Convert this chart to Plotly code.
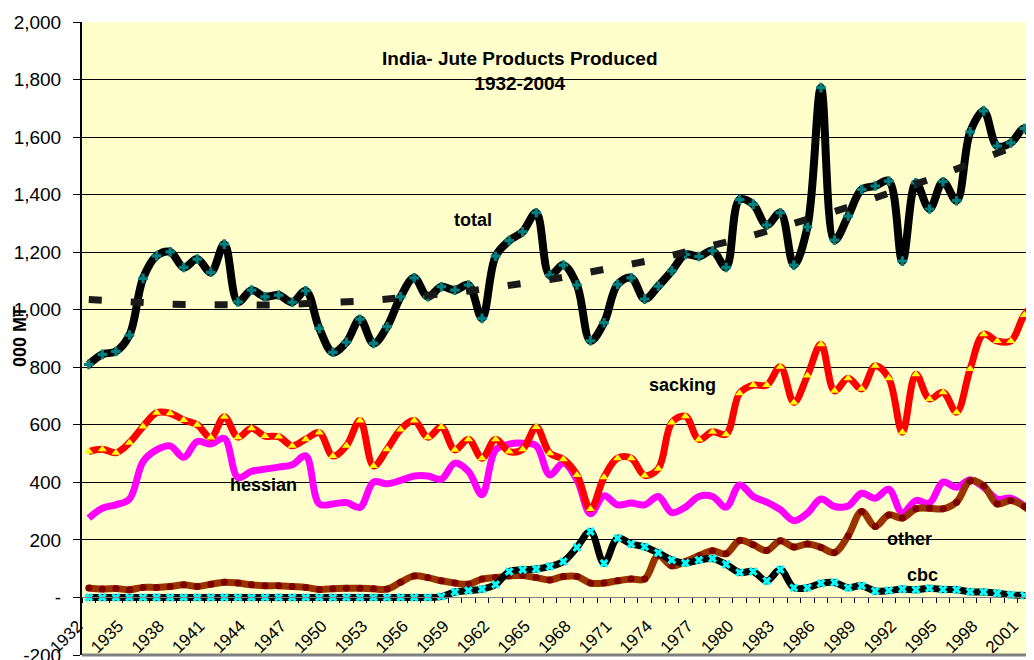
import numpy as np
import plotly.graph_objects as go

years = list(range(1932, 2005))

total = [810, 845, 855, 912, 1109, 1187, 1201, 1147, 1176, 1130,
         1228, 1027, 1068, 1045, 1051, 1026, 1066, 935, 852, 887,
         967, 883, 941, 1045, 1111, 1045, 1080, 1068, 1086, 970,
         1186, 1240, 1271, 1337, 1120, 1155, 1086, 892, 955, 1088,
         1111, 1037, 1082, 1135, 1192, 1185, 1205, 1147, 1383, 1366,
         1294, 1337, 1155, 1288, 1772, 1242, 1325, 1418, 1430, 1447,
         1169, 1441, 1350, 1445, 1379, 1618, 1691, 1569, 1580, 1630,
         1575, 1590, 1610]

sacking = [507, 515, 503, 538, 594, 642, 640, 617, 600, 556,
           628, 557, 588, 561, 559, 527, 550, 573, 492, 527,
           615, 457, 515, 584, 615, 557, 592, 513, 550, 484,
           550, 507, 515, 592, 501, 480, 426, 307, 418, 484,
           484, 424, 447, 608, 630, 549, 576, 567, 710, 738,
           738, 802, 678, 771, 880, 718, 762, 725, 805, 762,
           574, 776, 690, 713, 644, 794, 915, 891, 891, 982,
           1030, 1040, 1050]

hessian = [276, 310, 322, 342, 472, 513, 527, 487, 542, 533,
           553, 417, 438, 446, 453, 461, 492, 325, 325, 330,
           313, 401, 395, 407, 422, 422, 411, 467, 438, 357,
           513, 533, 536, 527, 426, 467, 409, 291, 353, 322,
           328, 322, 351, 295, 314, 351, 351, 314, 391, 351,
           331, 305, 267, 293, 342, 316, 318, 362, 345, 376,
           293, 337, 328, 401, 383, 409, 383, 342, 345, 318,
           280, 270, 265]

other = [33, 29, 31, 27, 35, 35, 38, 44, 38, 46,
         53, 50, 44, 41, 41, 38, 35, 28, 30, 32,
         32, 30, 29, 53, 75, 69, 58, 50, 46, 64,
         69, 75, 76, 69, 61, 73, 73, 50, 50, 58,
         64, 64, 146, 110, 125, 145, 162, 152, 198, 183,
         163, 197, 175, 186, 174, 156, 214, 299, 247, 287,
         276, 308, 310, 308, 331, 405, 388, 325, 337, 316,
         275, 275, 285]

cbc = [0, 0, 0, 0, 0, 0, 0, 0, 0, 0,
       0, 0, 0, 0, 0, 0, 0, 0, 0, 0,
       0, 0, 0, 0, 0, 0, 3, 19, 24, 29,
       45, 90, 96, 99, 108, 125, 174, 229, 119, 206,
       186, 176, 155, 130, 120, 130, 135, 115, 87, 90,
       57, 97, 34, 34, 49, 52, 34, 41, 22, 24,
       29, 27, 32, 28, 27, 20, 19, 15, 9, 7,
       5, 5, 5]

x_labels = [str(y) for y in range(1932, 2005, 3)]
y_ticks = [-200, 0, 200, 400, 600, 800, 1000, 1200, 1400, 1600, 1800, 2000]
y_labels = ["-200", "-", "200", "400", "600", "800", "1,000", "1,200",
            "1,400", "1,600", "1,800", "2,000"]

title_lines = ["India- Jute Products Produced", "1932-2004"]
y_title = "000 MT"

# polynomial (order 2) trendline of total, as in the original spreadsheet chart
coef = np.polyfit(years, total, 2)
trend = np.polyval(coef, years)

FONT = "Liberation Sans, Arial, sans-serif"

fig = go.Figure()

fig.add_trace(go.Scatter(x=years, y=hessian, mode="lines", name="hessian",
                         line=dict(color="#FF00FF", width=7, shape="spline")))
fig.add_trace(go.Scatter(x=years, y=sacking, mode="lines+markers", name="sacking",
                         line=dict(color="#FF0000", width=7, shape="spline"),
                         marker=dict(symbol="triangle-up", size=8, color="#FFFF00")))
fig.add_trace(go.Scatter(x=years, y=total, mode="lines+markers", name="total",
                         line=dict(color="#000000", width=8, shape="spline"),
                         marker=dict(symbol="cross", size=8, color="#008080")))
fig.add_trace(go.Scatter(x=years, y=trend, mode="lines", name="trend",
                         line=dict(color="#1a1a1a", width=7, dash="13px,29px")))
fig.add_trace(go.Scatter(x=years, y=other, mode="lines+markers", name="other",
                         line=dict(color="#993300", width=7, shape="spline"),
                         marker=dict(symbol="circle", size=7, color="#800000")))
fig.add_trace(go.Scatter(x=years, y=cbc, mode="lines+markers", name="cbc",
                         line=dict(color="#000000", width=7, shape="spline"),
                         marker=dict(symbol="x", size=8, color="#00FFFF")))

fig.update_layout(
    width=1034, height=660,
    margin=dict(l=74, r=0, t=14, b=13, pad=0, autoexpand=False),
    paper_bgcolor="white", plot_bgcolor="#FFFFCC",
    showlegend=False,
    font=dict(family=FONT, size=19, color="black"),
    xaxis=dict(
        type="linear", range=[1931.5, 2002.3],
        anchor="free", position=200 / 2200, automargin=False,
        showline=True, linecolor="#808080", linewidth=1,
        showgrid=False, zeroline=False,
        tickmode="array", tickvals=[int(v) for v in x_labels], ticktext=x_labels,
        ticks="", tickangle=-45,
        ticklabelstandoff=11, ticklabelshift=-11,
        tickfont=dict(family=FONT, size=17, color="black"),
        minor=dict(tickmode="linear", tick0=1931.5, dtick=1, ticks="outside",
                   ticklen=5, tickcolor="black", showgrid=False),
    ),
    yaxis=dict(
        range=[-200, 2000], automargin=False,
        tickmode="array", tickvals=y_ticks, ticktext=y_labels,
        showgrid=True, gridcolor="black", gridwidth=1,
        zeroline=False,
        showline=True, linecolor="black", linewidth=2,
        ticks="outside", ticklen=7, tickcolor="black",
        ticklabelstandoff=8,
        tickfont=dict(family=FONT, size=19, color="black"),
    ),
    shapes=[dict(type="line", xref="paper", yref="paper", x0=0, x1=1, y0=0, y1=0,
                 line=dict(color="#808080", width=3))],
)

ann_font = dict(family=FONT, size=18, color="black")
fig.add_annotation(x=0.456, y=0.923, xref="paper", yref="paper",
                   xanchor="center", yanchor="middle",
                   text="<b>" + "<br>".join(title_lines) + "</b>",
                   showarrow=False, font=dict(family=FONT, size=19, color="black"),
                   align="center")
fig.add_annotation(x=-0.0646, y=0.504, xref="paper", yref="paper",
                   xanchor="center", yanchor="middle",
                   text="<b>" + y_title + "</b>", textangle=-90,
                   showarrow=False, font=ann_font)
series_labels = [("total", 1960.3, 1311), ("sacking", 1975.8, 739),
                 ("hessian", 1944.9, 391), ("other", 1992.5, 203),
                 ("cbc", 1993.5, 79)]
for txt, lx, ly in series_labels:
    fig.add_annotation(x=lx, y=ly, text="<b>" + txt + "</b>", showarrow=False,
                       font=ann_font)

fig.write_html("out.html")
